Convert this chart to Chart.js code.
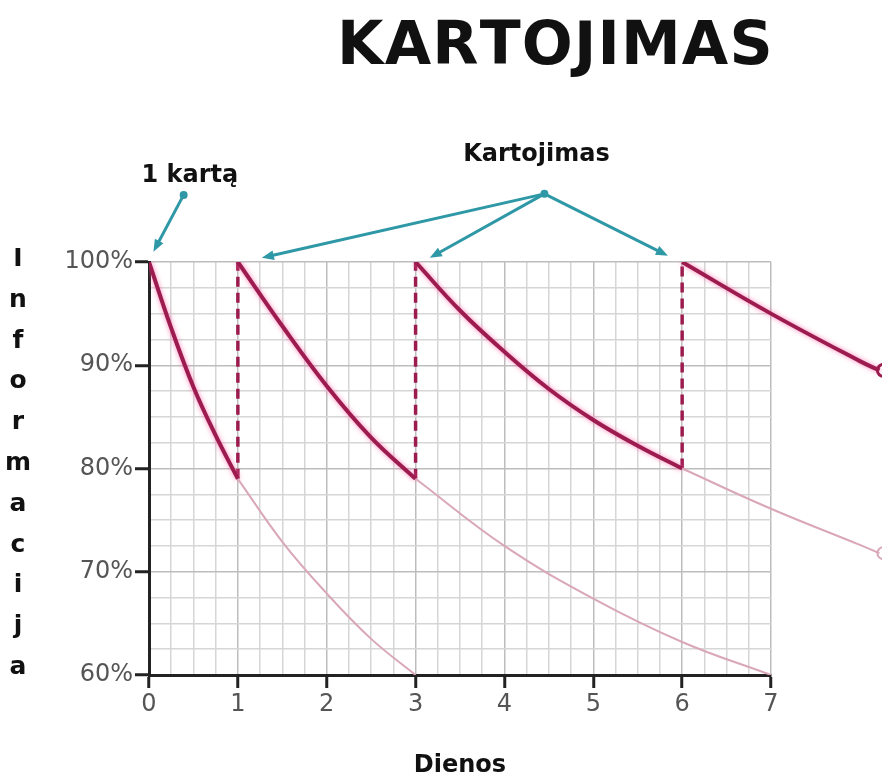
<!DOCTYPE html>
<html>
<head>
<meta charset="utf-8">
<script src="https://cdn.jsdelivr.net/npm/chart.js@4.4.1/dist/chart.umd.min.js"></script>
<style>
  body { margin: 0; background: #fff; }
</style>
</head>
<body>
<canvas id="chart" width="882" height="782"></canvas>
<script>
// forgetting curve: first learning, then repeats on day 1, 3 and 6
const daysA = [0, 0.25, 0.5, 0.75, 1];
const retentionA = [100, 93.6, 87.9, 83.2, 79];
const daysAFade = [1, 1.5, 2, 2.5, 3];
const retentionAFade = [79, 72.9, 67.9, 63.5, 60];

const daysB = [1, 1.5, 2, 2.5, 3];
const retentionB = [100, 93.8, 88.0, 83.0, 79];
const daysBFade = [3, 4, 5, 6, 7];
const retentionBFade = [79, 72.5, 67.4, 63.2, 60];

const daysC = [3, 3.5, 4, 4.5, 5, 5.5, 6];
const retentionC = [100, 95.3, 91.3, 87.7, 84.7, 82.2, 80];
const daysCFade = [6, 7, 8, 8.22];
const retentionCFade = [80, 76.1, 72.6, 71.8];

const daysD = [6, 7, 8, 8.22];
const retentionD = [100, 95.0, 90.4, 89.5];

const repeatDays = [1, 3, 6];
const repeatFrom = [79, 79, 80];

const dayLabels = [0, 1, 2, 3, 4, 5, 6, 7];
const percentLabels = [60, 70, 80, 90, 100];

const DARK = '#9c1c50';
const FADE = '#d9a7b8';

function pts(xs, ys) {
  return xs.map((x, i) => ({ x: x, y: ys[i] }));
}

function curve(xs, ys, dark, marker) {
  return {
    data: pts(xs, ys),
    borderColor: dark ? DARK : FADE,
    borderWidth: dark ? 4 : 2,
    tension: 0.4,
    pointRadius: 0,
    clip: { left: 0, top: 0, right: 120, bottom: 0 },
    glow: dark,
    endMarker: marker,
  };
}

const datasets = [
  curve(daysAFade, retentionAFade, false),
  curve(daysBFade, retentionBFade, false),
  curve(daysCFade, retentionCFade, false, true),
  curve(daysA, retentionA, true),
  curve(daysB, retentionB, true),
  curve(daysC, retentionC, true),
  curve(daysD, retentionD, true, true),
];
repeatDays.forEach((d, i) => {
  datasets.push({
    data: [{ x: d, y: repeatFrom[i] }, { x: d, y: 100 }],
    borderColor: DARK,
    borderWidth: 3.5,
    borderDash: [10, 6],
    pointRadius: 0,
  });
});

const glowPlugin = {
  id: 'glow',
  beforeDatasetDraw(chart, args) {
    const ctx = chart.ctx;
    ctx.save();
    if (chart.data.datasets[args.index].glow) {
      ctx.shadowColor = 'rgba(255, 90, 160, 0.75)';
      ctx.shadowBlur = 5;
    }
  },
  afterDatasetDraw(chart) {
    chart.ctx.restore();
  },
  // open circles at the line ends (they sit outside the plot area, so the
  // point elements themselves are not drawn by the library)
  afterDatasetsDraw(chart) {
    const ctx = chart.ctx;
    ctx.save();
    chart.data.datasets.forEach((ds, i) => {
      if (!ds.endMarker) return;
      const pts = chart.getDatasetMeta(i).data;
      const p = pts[pts.length - 1];
      ctx.strokeStyle = ds.borderColor;
      ctx.lineWidth = ds.borderWidth === 4 ? 3 : 2;
      ctx.beginPath();
      ctx.arc(p.x + 4, p.y, 6, 0, Math.PI * 2);
      ctx.stroke();
    });
    ctx.restore();
  },
};

function arrow(ctx, x1, y1, x2, y2) {
  const ang = Math.atan2(y2 - y1, x2 - x1);
  const head = 13;
  ctx.beginPath();
  ctx.moveTo(x1, y1);
  ctx.lineTo(x2 - Math.cos(ang) * head * 0.8, y2 - Math.sin(ang) * head * 0.8);
  ctx.stroke();
  ctx.beginPath();
  ctx.moveTo(x2, y2);
  ctx.lineTo(x2 - head * Math.cos(ang - 0.38), y2 - head * Math.sin(ang - 0.38));
  ctx.lineTo(x2 - head * Math.cos(ang + 0.38), y2 - head * Math.sin(ang + 0.38));
  ctx.closePath();
  ctx.fill();
}

const notesPlugin = {
  id: 'notes',
  afterDraw(chart) {
    const ctx = chart.ctx;
    const sx = chart.scales.x, sy = chart.scales.y;
    const px = (v) => sx.getPixelForValue(v);
    const py = (v) => sy.getPixelForValue(v);
    ctx.save();

    // big heading
    ctx.fillStyle = '#111';
    ctx.font = 'bold 60px "DejaVu Sans"';
    ctx.textBaseline = 'alphabetic';
    const heading = 'KARTOJIMAS';
    const w = ctx.measureText(heading).width;
    const spacing = (433 - w) / (heading.length - 1);
    let x = 337;
    for (const ch of heading) {
      ctx.fillText(ch, x, 64);
      x += ctx.measureText(ch).width + spacing;
    }

    // vertical axis word, one letter under the other
    ctx.font = 'bold 25px "DejaVu Sans"';
    ctx.textAlign = 'center';
    'Informacija'.split('').forEach((ch, i) => {
      ctx.fillText(ch, 18, 266 + i * 40.8);
    });

    // callouts
    ctx.font = 'bold 24px "DejaVu Sans"';
    ctx.fillText('1 kartą', px(0.46), py(107.7));
    ctx.fillText('Kartojimas', px(4.36), py(109.8));

    ctx.strokeStyle = '#2f98a6';
    ctx.fillStyle = '#2f98a6';
    ctx.lineWidth = 3;
    ctx.lineCap = 'round';
    const from1 = [px(0.39), py(106.5)];
    arrow(ctx, from1[0], from1[1], px(0.05), py(101));
    const from2 = [px(4.45), py(106.6)];
    arrow(ctx, from2[0], from2[1], px(1.27), py(100.4));
    arrow(ctx, from2[0], from2[1], px(3.16), py(100.4));
    arrow(ctx, from2[0], from2[1], px(5.84), py(100.6));
    ctx.beginPath();
    ctx.arc(from1[0], from1[1], 4, 0, Math.PI * 2);
    ctx.arc(from2[0], from2[1], 4, 0, Math.PI * 2);
    ctx.fill();
    ctx.restore();
  },
};

const isWhole = (v, step) => Math.abs(v / step - Math.round(v / step)) < 1e-6;

new Chart(document.getElementById('chart'), {
  type: 'line',
  data: { datasets: datasets },
  plugins: [glowPlugin, notesPlugin],
  options: {
    responsive: false,
    animation: false,
    layout: { padding: { top: 262, right: 111, left: 0, bottom: 0 } },
    plugins: { legend: { display: false }, tooltip: { enabled: false } },
    scales: {
      x: {
        type: 'linear',
        // range set after the data limits so lines can run past day 7
        afterDataLimits(scale) {
          scale.min = dayLabels[0];
          scale.max = dayLabels[dayLabels.length - 1];
        },
        afterFit(scale) { scale.height = 107; },
        ticks: {
          stepSize: 0.25,
          autoSkip: false,
          maxRotation: 0,
          padding: 2,
          color: '#555',
          font: { family: 'DejaVu Sans', size: 24 },
          callback: (v) => (dayLabels.includes(v) ? String(v) : ''),
        },
        grid: {
          color: (c) => (isWhole(c.tick.value, 1) ? '#bdbdbd' : '#d6d6d6'),
          lineWidth: 1.5,
          tickLength: 13,
          tickWidth: 3,
          tickColor: (c) => (isWhole(c.tick.value, 1) ? '#222' : 'rgba(0,0,0,0)'),
        },
        border: { color: '#222', width: 3 },
        title: {
          display: true,
          text: 'Dienos',
          color: '#111',
          font: { family: 'DejaVu Sans', size: 24, weight: 'bold' },
          padding: { top: 0, bottom: 2 },
        },
      },
      y: {
        min: percentLabels[0],
        max: percentLabels[percentLabels.length - 1],
        afterFit(scale) { scale.width = 149; },
        ticks: {
          stepSize: 2.5,
          autoSkip: false,
          padding: 2,
          color: '#555',
          font: { family: 'DejaVu Sans', size: 24 },
          callback: (v) => (percentLabels.includes(v) ? v + '%' : ''),
        },
        grid: {
          color: (c) => (isWhole(c.tick.value, 10) ? '#bdbdbd' : '#d6d6d6'),
          lineWidth: 1.5,
          tickLength: 14,
          tickWidth: 3,
          tickColor: (c) => (isWhole(c.tick.value, 10) ? '#222' : 'rgba(0,0,0,0)'),
        },
        border: { color: '#222', width: 3 },
      },
    },
  },
});
</script>
</body>
</html>
